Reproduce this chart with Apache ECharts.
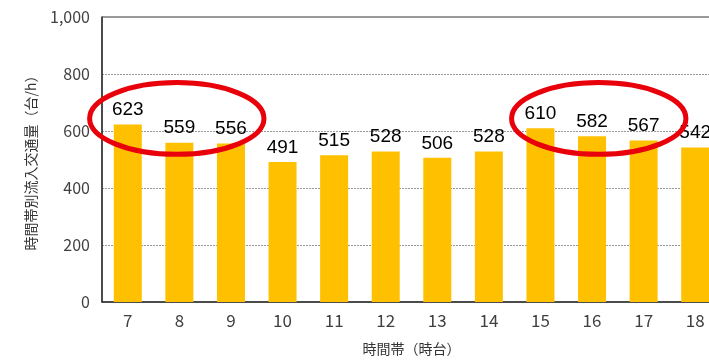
<!DOCTYPE html>
<html>
<head>
<meta charset="utf-8">
<script src="https://cdn.jsdelivr.net/npm/echarts@6/dist/echarts.min.js"></script>
<style>
  html, body { margin: 0; padding: 0; background: #fff; }
  #chart { width: 709px; height: 360px; }
</style>
</head>
<body>
<div id="chart"></div>
<script>
// Hourly inflow traffic volume by time of day
const hours = ['7', '8', '9', '10', '11', '12', '13', '14', '15', '16', '17', '18'];
const volumes = [623, 559, 556, 491, 515, 528, 506, 528, 610, 582, 567, 542];
const yTicks = [0, 200, 400, 600, 800, 1000];

// Highlighted peak periods (morning 7-9, evening 15-17), as hour indices
const peaks = [[0, 2], [8, 10]];

const font = '"Noto Sans CJK JP", "Noto Sans", sans-serif';
const chart = echarts.init(document.getElementById('chart'));

chart.setOption({
  animation: false,
  grid: {
    left: 102, width: 619, top: 17, height: 285,
    outerBoundsMode: 'none', containLabel: false,
    show: true, borderColor: '#333', borderWidth: 1
  },
  xAxis: {
    type: 'category',
    data: hours,
    name: '時間帯（時台）',
    nameLocation: 'middle',
    nameGap: 40,
    nameTextStyle: { fontFamily: font, fontSize: 14, color: '#333' },
    axisLine: { lineStyle: { color: '#333', width: 1.5 } },
    axisTick: { show: false },
    axisLabel: { fontFamily: font, fontSize: 17, color: '#404040', margin: 10 }
  },
  yAxis: {
    type: 'value',
    min: yTicks[0],
    max: yTicks[yTicks.length - 1],
    interval: yTicks[1] - yTicks[0],
    name: '時間帯別流入交通量（台/h）',
    nameLocation: 'middle',
    nameGap: 64,
    nameTextStyle: { fontFamily: font, fontSize: 14, color: '#333' },
    axisLine: { show: true, lineStyle: { color: '#333', width: 1.5 } },
    axisTick: { show: false },
    axisLabel: {
      fontFamily: font, fontSize: 16, color: '#404040', margin: 12,
      formatter: v => v.toLocaleString('en-US')
    },
    splitLine: { lineStyle: { color: '#999', width: 1, type: [2, 1] } }
  },
  series: [{
    type: 'bar',
    data: volumes,
    barWidth: 28,
    itemStyle: { color: '#FFC000' },
    label: {
      show: true,
      position: 'top',
      distance: 5,
      fontFamily: '"Liberation Sans", Arial, sans-serif',
      fontSize: 19,
      color: '#000'
    }
  }]
});

// Red ellipses around the peak hours, placed through the axis scales.
// Each is hand-drawn looking: slightly off-centre from its hour range.
const ringShift = [-0.05, 0.13];   // horizontal nudge, in hour bands
const ellipses = peaks.map(([a, b], i) => {
  const px = (idx, v) => chart.convertToPixel({ seriesIndex: 0 }, [idx, v]);
  const band = px(1, 0)[0] - px(0, 0)[0];
  const left = px(a, 644), right = px(b, 644);
  const top = px(a, 770)[1];
  return {
    type: 'ellipse',
    shape: {
      cx: (left[0] + right[0]) / 2 + ringShift[i] * band,
      cy: left[1],
      rx: (right[0] - left[0]) / 2 + band * 0.69,
      ry: left[1] - top
    },
    style: { fill: 'none', stroke: '#E8000B', lineWidth: 5 },
    z: 100
  };
});
chart.setOption({ graphic: ellipses });
</script>
</body>
</html>
